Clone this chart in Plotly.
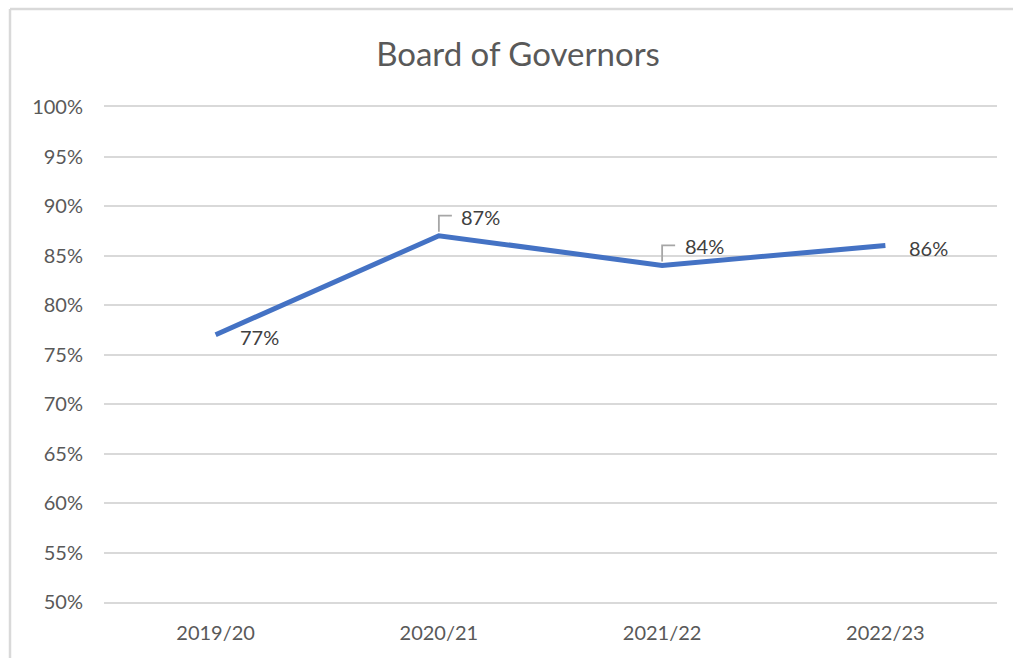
import plotly.graph_objects as go

categories = ["2019/20", "2020/21", "2021/22", "2022/23"]
values = [0.77, 0.87, 0.84, 0.86]
label_texts = ["77%", "87%", "84%", "86%"]
y_tickvals = [0.50, 0.55, 0.60, 0.65, 0.70, 0.75, 0.80, 0.85, 0.90, 0.95, 1.00]

W, H = 1013, 658
L, R, T, B = 104, 16, 107, 56
pw, ph = W - L - R, H - T - B

FONT = "Lato, Calibri, Carlito, sans-serif"
TICK_COLOR = "#595959"
LABEL_COLOR = "#404040"
GRID = "#D9D9D9"

fig = go.Figure()
fig.add_trace(go.Scatter(
    x=categories, y=values, mode="lines",
    line=dict(color="#4472C4", width=5),
    hoverinfo="skip", showlegend=False,
))

# data label placement (pixel offsets from point) and whether a leader line is used
label_shift = [(22, -2), (20, 19), (21, 19), (22, -2)]
has_leader = [False, True, True, False]

annotations = []
shapes = []
for cat, v, txt, (dx, dy), lead in zip(categories, values, label_texts, label_shift, has_leader):
    annotations.append(dict(
        x=cat, y=v, xref="x", yref="y", text=txt, showarrow=False,
        xanchor="left", yanchor="middle", xshift=dx, yshift=dy,
        font=dict(family=FONT, size=20, color=LABEL_COLOR),
    ))
    if lead:
        shapes.append(dict(
            type="path", xref="x", yref="y",
            xsizemode="pixel", ysizemode="pixel",
            xanchor=cat, yanchor=v,
            path=f"M0,4 L0,{dy+1} L13,{dy+1}",
            line=dict(color="#A6A6A6", width=1.8),
        ))

# chart outer border (left and top visible)
top_y = (H - B - 9) / ph
left_x = (10 - L) / pw
shapes.append(dict(
    type="line", xref="paper", yref="paper",
    x0=left_x, x1=left_x, y0=-B / ph, y1=top_y,
    line=dict(color=GRID, width=2.5), layer="below",
))
shapes.append(dict(
    type="line", xref="paper", yref="paper",
    x0=left_x, x1=(W - L) / pw, y0=top_y, y1=top_y,
    line=dict(color=GRID, width=2.5), layer="below",
))

fig.update_layout(
    width=W, height=H,
    margin=dict(l=L, r=R, t=T, b=B, pad=0),
    paper_bgcolor="white", plot_bgcolor="white",
    font=dict(family=FONT, color=TICK_COLOR),
    title=dict(
        text="Board of Governors",
        x=(518 - L) / pw, xref="paper", xanchor="center",
        y=1 - 54 / H, yref="container", yanchor="middle",
        font=dict(family=FONT, size=33, color=TICK_COLOR),
    ),
    xaxis=dict(
        type="category", range=[-0.5, 3.5],
        showgrid=False, zeroline=False,
        showline=True, mirror=True, linecolor=GRID, linewidth=1.5,
        ticks="", tickfont=dict(family=FONT, size=20, color=TICK_COLOR),
        ticklabelstandoff=12, fixedrange=True,
    ),
    yaxis=dict(
        range=[0.5, 1.0], tickvals=y_tickvals, tickformat=".0%",
        showgrid=True, gridcolor=GRID, gridwidth=1.5,
        zeroline=False, showline=False, ticks="",
        tickfont=dict(family=FONT, size=20, color=TICK_COLOR),
        ticklabelstandoff=20, fixedrange=True,
    ),
    annotations=annotations,
    shapes=shapes,
)

fig.write_html("out.html")
